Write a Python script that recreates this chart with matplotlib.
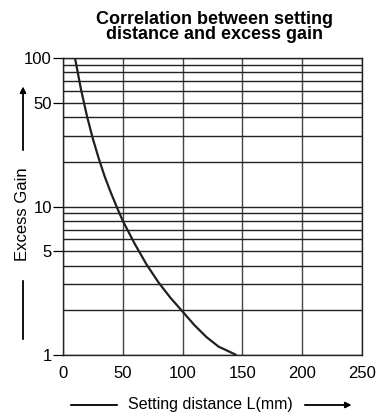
import numpy as np
import matplotlib.pyplot as plt
from matplotlib.ticker import FixedLocator, NullFormatter

plt.rcParams['font.family'] = ['Liberation Sans', 'DejaVu Sans']

# curve
distance = [10, 15, 20, 25, 30, 35, 40, 45, 50, 60, 70, 80, 90, 100, 110, 120, 130, 145]
gain = [100, 61.7, 40.7, 28.5, 20.9, 15.8, 12.4, 9.9, 8.0, 5.6, 4.05, 3.07, 2.42, 1.96,
        1.585, 1.32, 1.14, 1.0]

x_ticks = [0, 50, 100, 150, 200, 250]
y_ticks = [1, 5, 10, 50, 100]
y_tick_labels = ['1', '5', '10', '50', '100']
y_minor = [2, 3, 4, 6, 7, 8, 9, 20, 30, 40, 60, 70, 80, 90]

fig = plt.figure(figsize=(3.88, 4.16), dpi=100)
ax = fig.add_axes([0.1624, 0.1466, 0.7706, 0.714])

ax.set_yscale('log')
ax.set_xlim(0, 250)
ax.set_ylim(1, 100)

ax.plot(distance, gain, color='#231f20', lw=1.6, zorder=3,
        solid_joinstyle='round', solid_capstyle='butt')

ax.set_xticks(x_ticks)
ax.set_xticklabels([str(v) for v in x_ticks], fontsize=12)
ax.yaxis.set_major_locator(FixedLocator(y_ticks))
ax.set_yticklabels(y_tick_labels, fontsize=12)
ax.yaxis.set_minor_locator(FixedLocator(y_minor))
ax.yaxis.set_minor_formatter(NullFormatter())
ax.tick_params(axis='x', length=0, pad=8)
ax.tick_params(axis='y', which='major', length=7, width=0.9, direction='out', pad=1)
ax.tick_params(axis='y', which='minor', length=0)

ax.grid(True, axis='x', color='#444444', lw=1.0)
ax.grid(True, axis='y', which='both', color='#222222', lw=1.0)
for s in ax.spines.values():
    s.set_color('#222222')
    s.set_linewidth(1.0)

fig.text(0.554, 0.935, 'Correlation between setting\ndistance and excess gain',
         ha='center', va='center', fontsize=13, fontweight='bold', linespacing=0.9)

# axis labels with arrows, as in the original
fig.text(23 / 388, 1 - 214 / 416, 'Excess Gain', rotation=90, ha='center', va='center', fontsize=12)
fig.text(210 / 388, 1 - 405 / 416, 'Setting distance L(mm)', ha='center', va='center', fontsize=11.5)

arr = dict(arrowstyle='-|>', color='black', lw=1.0, mutation_scale=9)
line = dict(arrowstyle='-', color='black', lw=1.0)
fig.add_artist(plt.annotate('', xy=(23 / 388, 1 - 84 / 416), xytext=(23 / 388, 1 - 153 / 416),
                            xycoords='figure fraction', arrowprops=arr))
fig.add_artist(plt.annotate('', xy=(23 / 388, 1 - 278 / 416), xytext=(23 / 388, 1 - 342 / 416),
                            xycoords='figure fraction', arrowprops=line))
fig.add_artist(plt.annotate('', xy=(68 / 388, 1 - 405 / 416), xytext=(120 / 388, 1 - 405 / 416),
                            xycoords='figure fraction', arrowprops=line))
fig.add_artist(plt.annotate('', xy=(354 / 388, 1 - 405 / 416), xytext=(302 / 388, 1 - 405 / 416),
                            xycoords='figure fraction', arrowprops=arr))

fig.savefig('out.png', dpi=100)
